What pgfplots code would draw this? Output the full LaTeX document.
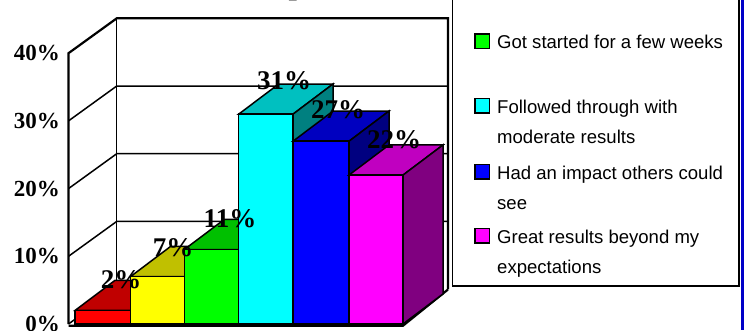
\documentclass[border=0pt]{standalone}
\usepackage{pgfplots}
\pgfplotsset{compat=1.18}
\usepackage{fontspec}
\setmainfont{Liberation Serif}
\newfontfamily\legendfont{Liberation Sans}
\definecolor{legendblue}{RGB}{0,0,200}
\definecolor{redfront}{RGB}{255,0,0}
\definecolor{redtop}{RGB}{192,0,0}
\definecolor{redside}{RGB}{128,0,0}
\definecolor{yellowfront}{RGB}{255,255,0}
\definecolor{yellowtop}{RGB}{192,192,0}
\definecolor{greenfront}{RGB}{0,255,0}
\definecolor{greentop}{RGB}{0,192,0}
\definecolor{cyanfront}{RGB}{0,255,255}
\definecolor{cyantop}{RGB}{0,192,192}
\definecolor{cyanside}{RGB}{0,128,128}
\definecolor{bluefront}{RGB}{0,0,255}
\definecolor{bluetop}{RGB}{0,0,192}
\definecolor{blueside}{RGB}{0,0,128}
\definecolor{magentafront}{RGB}{255,0,255}
\definecolor{magentatop}{RGB}{192,0,192}
\definecolor{magentaside}{RGB}{128,0,128}
\pgfplotsset{
  wall/.style={black,line width=1.5pt,forget plot},
  heavy/.style={black,line width=2.2pt,forget plot},
  face/.style={draw=black,line width=1.5pt,fill=#1,forget plot},
}
\newcommand\ticklab[2]{\node[anchor=east,font=\bfseries\fontsize{23}{23}\selectfont,inner sep=0pt] at (axis cs:60,#1) {#2\%};}
\newcommand\vlab[3]{\node[font=\bfseries\fontsize{27}{27}\selectfont,inner sep=0pt] at (axis cs:#1,#2) {#3\%};}
\newcommand\swatch[2]{\draw[black,line width=1.5pt,fill=#2] (475pt,#1pt) rectangle ++(14.5pt,14.5pt);}
\begin{document}
\begin{tikzpicture}
\useasboundingbox (0,0) rectangle (744pt,330pt);
\clip (0,0) rectangle (744pt,330pt);
\begin{axis}[
  at={(0,0)},anchor=south west,
  width=744pt,height=330pt,scale only axis,
  xmin=0,xmax=744,ymin=-0.886,ymax=47.86,
  axis lines=none,clip=false,
]
% side walls, floor and gridlines
\addplot[heavy] coordinates {(68.5,0)(68.5,40)(116.7,45.15)(448,45.15)(448,5.1)};
\addplot[wall] coordinates {(116.7,45.15)(116.7,5.15)};
\addplot[wall] coordinates {(68.5,30)(116.7,35.15)(448,35.15)};
\addplot[wall] coordinates {(68.5,20)(116.7,25.15)(448,25.15)};
\addplot[wall] coordinates {(68.5,10)(116.7,15.15)(448,15.15)};
\addplot[wall] coordinates {(68.5,0)(116.7,5.15)};
\addplot[heavy] coordinates {(68.5,-0.25)(403,-0.25)(448,5.1)};

% bars: top, side and front faces
\addplot[face=redtop] coordinates {(75,2)(115,6.45)(170.5,6.45)(130.5,2)} -- cycle;
\addplot[face=redside] coordinates {(130.5,0)(170.5,4.45)(170.5,6.45)(130.5,2)} -- cycle;
\addplot[face=redfront] coordinates {(75,0)(75,2)(130.5,2)(130.5,0)} -- cycle;

\addplot[face=yellowtop] coordinates {(130.5,7)(170.5,11.45)(224.3,11.45)(184.3,7)} -- cycle;
\addplot[face=yellowfront] coordinates {(130.5,0)(130.5,7)(184.3,7)(184.3,0)} -- cycle;

\addplot[face=greentop] coordinates {(184.3,11)(224.3,15.45)(278.7,15.45)(238.7,11)} -- cycle;
\addplot[face=greenfront] coordinates {(184.3,0)(184.3,11)(238.7,11)(238.7,0)} -- cycle;

\addplot[face=cyantop] coordinates {(238.7,31)(278.7,35.45)(333,35.45)(293,31)} -- cycle;
\addplot[face=cyanside] coordinates {(293,0)(333,4.45)(333,35.45)(293,31)} -- cycle;
\addplot[face=cyanfront] coordinates {(238.7,0)(238.7,31)(293,31)(293,0)} -- cycle;

\addplot[face=bluetop] coordinates {(293,27)(333,31.45)(389,31.45)(349,27)} -- cycle;
\addplot[face=blueside] coordinates {(349,0)(389,4.45)(389,31.45)(349,27)} -- cycle;
\addplot[face=bluefront] coordinates {(293,0)(293,27)(349,27)(349,0)} -- cycle;

\addplot[face=magentatop] coordinates {(349,22)(389,26.45)(443,26.45)(403,22)} -- cycle;
\addplot[face=magentaside] coordinates {(403,0)(443,4.45)(443,26.45)(403,22)} -- cycle;
\addplot[face=magentafront] coordinates {(349,0)(349,22)(403,22)(403,0)} -- cycle;

% value axis labels
\ticklab{0}{0}
\ticklab{10}{10}
\ticklab{20}{20}
\ticklab{30}{30}
\ticklab{40}{40}
% labels above the bars
\vlab{121}{6.5}{2}
\vlab{173}{11.3}{7}
\vlab{230}{15.6}{11}
\vlab{284}{36.0}{31}
\vlab{338}{31.7}{27}
\vlab{394}{27.2}{22}
\end{axis}

% title, running off the top edge
\node[anchor=base,font=\bfseries\fontsize{30}{30}\selectfont,inner sep=0pt] at (297pt,335pt) {p};

% legend panel, running off the top edge
\fill[legendblue] (741pt,0) rectangle (744pt,330pt);
\draw[black,line width=1.7pt,fill=white] (452.5pt,340pt) rectangle (739pt,44pt);
\begin{scope}[every node/.style={anchor=base west,inner sep=0pt,font=\legendfont\fontsize{18.55}{18.55}\selectfont}]
\swatch{281.5}{greenfront}
\node at (497pt,281pt) {Got started for a few weeks};
\swatch{217}{cyanfront}
\node at (497pt,217pt) {Followed through with};
\node at (497pt,187pt) {moderate results};
\swatch{151}{bluefront}
\node at (497pt,151pt) {Had an impact others could};
\node at (497pt,121pt) {see};
\swatch{87}{magentafront}
\node at (497pt,87pt) {Great results beyond my};
\node at (497pt,57pt) {expectations};
\end{scope}
\end{tikzpicture}
\end{document}
